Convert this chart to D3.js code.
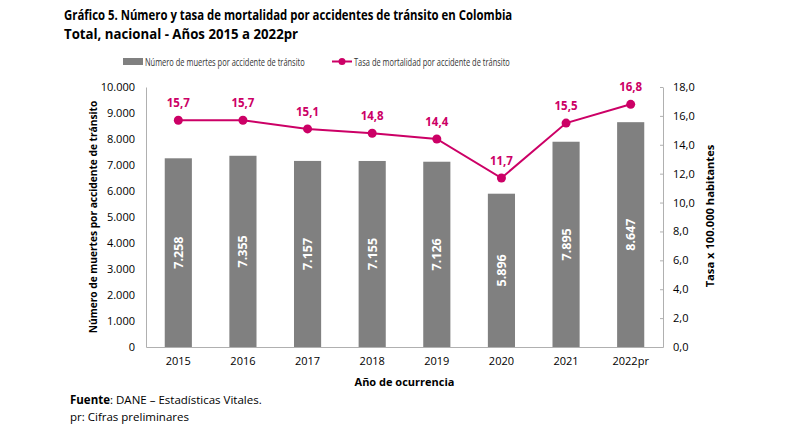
<!DOCTYPE html>
<html><head><meta charset="utf-8">
<script src="https://cdn.jsdelivr.net/npm/d3@7"></script>
<style>body{margin:0;background:#fff;} text{font-family:"Open Sans","Noto Sans",sans-serif;}</style>
</head><body>
<svg id="c" width="805" height="431"></svg>
<script>
const years = ["2015","2016","2017","2018","2019","2020","2021","2022pr"];
const deaths = [7258,7355,7157,7155,7126,5896,7895,8647];
const rates = [15.7,15.7,15.1,14.8,14.4,11.7,15.5,16.8];
const leftTicks = [0,1000,2000,3000,4000,5000,6000,7000,8000,9000,10000];
const rightTicks = [0,2,4,6,8,10,12,14,16,18];

const svg = d3.select("#c");
const L = 146, R = 663, T = 87, B = 347;
const pink = "#cc0066", gray = "#808080", axisC = "#b0b0b0";
const fmtInt = d3.formatLocale({decimal:",",thousands:".",grouping:[3],currency:["",""]}).format(",d");
const fmtDec = v => v.toFixed(1).replace(".", ",");

const x = d3.scaleBand().domain(years).range([L, R]).paddingInner(0.58).paddingOuter(0.29);
const yL = d3.scaleLinear().domain([0,10000]).range([B, T]);
const yR = d3.scaleLinear().domain([0,18]).range([B, T]);

function fitText(px, py, w, size, weight, fill, str) {
  const t = svg.append("text").attr("font-size", size).attr("font-weight", weight).attr("fill", fill).text(str);
  const nat = t.node().getComputedTextLength();
  t.attr("transform", `translate(${px},${py}) scale(${w/nat},1)`);
  return t;
}
function fitTextV(cxp, cyp, h, size, str) {
  const t = svg.append("text").attr("font-size", size).attr("font-weight", "bold").attr("fill", "#000")
    .attr("text-anchor","middle").text(str);
  const nat = t.node().getComputedTextLength();
  t.attr("transform", `translate(${cxp},${cyp}) rotate(-90) scale(${h/nat},1)`);
  return t;
}

// title
fitText(64, 20, 448, 14.2, "bold", "#000", "Gráfico 5. Número y tasa de mortalidad por accidentes de tránsito en Colombia");
fitText(64, 39, 234, 14.2, "bold", "#000", "Total, nacional - Años 2015 a 2022pr");

// legend
svg.append("rect").attr("x",123).attr("y",58).attr("width",20).attr("height",7).attr("fill",gray);
fitText(145, 65.5, 160, 11, "normal", "#333", "Número de muertes por accidente de tránsito");
svg.append("line").attr("x1",332).attr("x2",352).attr("y1",61.5).attr("y2",61.5).attr("stroke",pink).attr("stroke-width",2);
svg.append("circle").attr("cx",342).attr("cy",61.5).attr("r",3.5).attr("fill",pink);
fitText(354, 65.5, 156, 11, "normal", "#333", "Tasa de mortalidad por accidente de tránsito");

// bars
svg.selectAll(".bar").data(deaths).enter().append("rect")
  .attr("x",(d,i)=>x(years[i])).attr("width",x.bandwidth())
  .attr("y",d=>yL(d)).attr("height",d=>B-yL(d)).attr("fill",gray);
svg.selectAll(".bl").data(deaths).enter().append("text")
  .attr("transform",(d,i)=>`translate(${x(years[i])+x.bandwidth()/2+4.5},${(yL(d)+B)/2}) rotate(-90)`)
  .attr("text-anchor","middle").attr("font-size",12.5).attr("font-weight","bold").attr("fill","#fff")
  .text(d=>fmtInt(d));

// axes
const gL = svg.append("g").attr("transform",`translate(${L},0)`)
  .call(d3.axisLeft(yL).tickValues(leftTicks).tickSize(0).tickPadding(11).tickFormat(fmtInt));
gL.select(".domain").attr("stroke",axisC);
gL.selectAll("text").attr("font-size",11).attr("fill","#000").attr("font-family","'Open Sans','Noto Sans',sans-serif");

const gR = svg.append("g").attr("transform",`translate(${R},0)`)
  .call(d3.axisRight(yR).tickValues(rightTicks).tickSize(0).tickPadding(10).tickFormat(fmtDec));
gR.select(".domain").attr("stroke",axisC);
gR.selectAll("text").attr("font-size",11).attr("fill","#000").attr("font-family","'Open Sans','Noto Sans',sans-serif");
gR.selectAll(".tick").append("line").attr("x1",-3).attr("x2",0).attr("stroke",axisC);

const gB = svg.append("g").attr("transform",`translate(0,${B})`)
  .call(d3.axisBottom(x).tickSize(0).tickPadding(10));
gB.select(".domain").attr("stroke",axisC);
gB.selectAll("text").attr("font-size",11).attr("fill","#000").attr("font-family","'Open Sans','Noto Sans',sans-serif");

// axis titles
fitTextV(97, (T+B)/2, 233, 11, "Número de muertes por accidente de tránsito");
fitTextV(714, (T+B)/2-1, 143, 11, "Tasa x 100.000 habitantes");
svg.append("text").attr("x",(L+R)/2).attr("y",386).attr("text-anchor","middle")
  .attr("font-size",11).attr("font-weight","bold").attr("fill","#000").text("Año de ocurrencia");

// line
const cx = i => x(years[i]) + x.bandwidth()/2;
svg.append("path").datum(rates)
  .attr("d", d3.line().x((d,i)=>cx(i)).y(d=>yR(d)))
  .attr("fill","none").attr("stroke",pink).attr("stroke-width",2);
svg.selectAll(".pt").data(rates).enter().append("circle")
  .attr("cx",(d,i)=>cx(i)).attr("cy",d=>yR(d)).attr("r",4.5).attr("fill",pink);
svg.selectAll(".pl").data(rates).enter().append("text")
  .attr("x",(d,i)=>cx(i)).attr("y",d=>yR(d)-13).attr("text-anchor","middle")
  .attr("font-size",11.5).attr("font-weight","bold").attr("fill",pink).text(d=>fmtDec(d));

// footer
const f = svg.append("text").attr("x",70).attr("y",404).attr("font-size",11.5).attr("fill","#000");
f.append("tspan").attr("font-weight","bold").text("Fuente");
f.append("tspan").text(": DANE – Estadísticas Vitales.");
svg.append("text").attr("x",70).attr("y",421).attr("font-size",11.5).attr("fill","#000").text("pr: Cifras preliminares");
</script>
</body></html>
